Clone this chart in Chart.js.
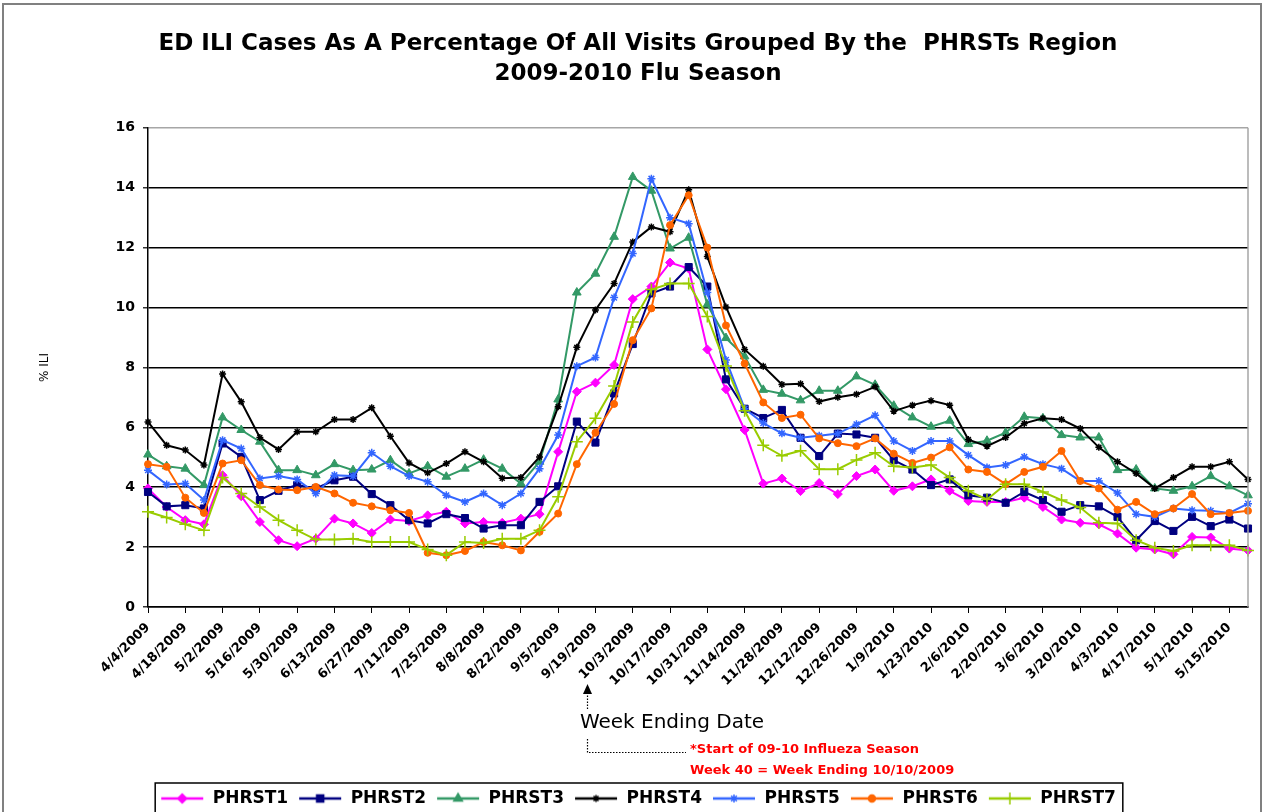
<!DOCTYPE html>
<html><head><meta charset="utf-8">
<script src="https://cdn.jsdelivr.net/npm/chart.js@4.4.1/dist/chart.umd.min.js"></script>
<style>html,body{margin:0;padding:0;background:#fff;}canvas{display:block;}</style>
</head><body>
<canvas id="c" width="1263" height="812"></canvas>
<script>
const weekEnding = ["4/4/2009","4/11/2009","4/18/2009","4/25/2009","5/2/2009","5/9/2009","5/16/2009","5/23/2009","5/30/2009","6/6/2009",
"6/13/2009","6/20/2009","6/27/2009","7/4/2009","7/11/2009","7/18/2009","7/25/2009","8/1/2009","8/8/2009","8/15/2009",
"8/22/2009","8/29/2009","9/5/2009","9/12/2009","9/19/2009","9/26/2009","10/3/2009","10/10/2009","10/17/2009","10/24/2009",
"10/31/2009","11/7/2009","11/14/2009","11/21/2009","11/28/2009","12/5/2009","12/12/2009","12/19/2009","12/26/2009","1/2/2010",
"1/9/2010","1/16/2010","1/23/2010","1/30/2010","2/6/2010","2/13/2010","2/20/2010","2/27/2010","3/6/2010","3/13/2010",
"3/20/2010","3/27/2010","4/3/2010","4/10/2010","4/17/2010","4/24/2010","5/1/2010","5/8/2010","5/15/2010","5/22/2010"];

const phrst1 = [3.96,3.34,2.90,2.76,4.40,3.70,2.84,2.23,2.03,2.28, 2.95,2.79,2.47,2.92,2.87,3.06,3.18,2.79,2.84,2.81, 2.95,3.10,5.18,7.19,7.49,8.08,10.28,10.7,11.5,11.3, 8.6,7.27,5.91,4.12,4.29,3.87,4.14,3.77,4.37,4.59, 3.88,4.03,4.26,3.88,3.54,3.51,3.51,3.65,3.34,2.92, 2.81,2.76,2.45,1.98,1.92,1.76,2.34,2.32,1.95,1.89];
const phrst2 = [3.84,3.36,3.40,3.29,5.46,5.01,3.57,3.88,4.07,3.96, 4.23,4.35,3.77,3.40,2.90,2.79,3.10,2.97,2.62,2.73, 2.73,3.51,4.03,6.19,5.49,7.13,8.78,10.47,10.7,11.35, 10.7,7.6,6.62,6.31,6.58,5.65,5.04,5.79,5.76,5.65, 4.9,4.59,4.07,4.26,3.73,3.65,3.48,3.84,3.57,3.18, 3.40,3.36,3.01,2.23,2.87,2.54,3.01,2.70,2.92,2.62];
const phrst3 = [5.09,4.70,4.62,4.07,6.33,5.91,5.52,4.57,4.57,4.40, 4.77,4.57,4.59,4.90,4.46,4.70,4.35,4.62,4.92,4.62, 4.12,4.85,6.93,10.5,11.13,12.36,14.36,13.9,11.97,12.33, 10.1,8.98,8.37,7.25,7.12,6.9,7.22,7.22,7.7,7.42, 6.72,6.33,6.02,6.22,5.44,5.55,5.82,6.35,6.30,5.74, 5.66,5.66,4.57,4.59,3.96,3.88,4.03,4.37,4.03,3.73];
const phrst4 = [6.18,5.40,5.24,4.74,7.78,6.85,5.66,5.26,5.85,5.85, 6.26,6.26,6.65,5.70,4.81,4.48,4.79,5.18,4.85,4.30, 4.32,5.01,6.69,8.67,9.92,10.8,12.19,12.69,12.53,13.93, 11.7,10.02,8.6,8.04,7.43,7.45,6.86,7.0,7.1,7.35, 6.54,6.74,6.89,6.74,5.59,5.37,5.66,6.13,6.30,6.26, 5.96,5.33,4.85,4.46,3.96,4.32,4.68,4.68,4.85,4.26];
const phrst5 = [4.57,4.09,4.12,3.57,5.57,5.29,4.29,4.37,4.26,3.79, 4.40,4.37,5.15,4.70,4.37,4.18,3.73,3.51,3.79,3.40, 3.79,4.62,5.74,8.04,8.33,10.33,11.8,14.3,13.0,12.8, 10.5,8.25,6.62,6.14,5.8,5.65,5.72,5.79,6.1,6.4, 5.54,5.21,5.54,5.54,5.07,4.66,4.74,5.01,4.77,4.62, 4.21,4.21,3.81,3.10,3.01,3.29,3.23,3.21,3.14,3.45];
const phrst6 = [4.77,4.68,3.65,3.14,4.79,4.90,4.07,3.92,3.90,4.01, 3.79,3.48,3.36,3.23,3.14,1.81,1.73,1.87,2.17,2.06, 1.89,2.51,3.12,4.77,5.82,6.78,8.91,9.97,12.75,13.75, 12.0,9.4,8.13,6.83,6.31,6.42,5.63,5.47,5.37,5.63, 5.12,4.81,4.99,5.33,4.59,4.51,4.10,4.51,4.68,5.21, 4.21,3.96,3.25,3.51,3.10,3.29,3.77,3.10,3.14,3.21];
const phrst7 = [3.18,2.99,2.76,2.56,4.32,3.79,3.34,2.90,2.56,2.25, 2.25,2.28,2.17,2.17,2.17,1.92,1.73,2.17,2.14,2.28, 2.28,2.56,3.68,5.52,6.3,7.38,9.52,10.6,10.8,10.8, 9.7,8.05,6.55,5.4,5.05,5.22,4.6,4.6,4.91,5.15, 4.7,4.66,4.74,4.32,3.88,3.59,4.10,4.10,3.84,3.57, 3.32,2.81,2.79,2.23,1.98,1.87,2.06,2.06,2.06,1.89];

const seriesNames = ["PHRST1","PHRST2","PHRST3","PHRST4","PHRST5","PHRST6","PHRST7"];
const seriesValues = [phrst1, phrst2, phrst3, phrst4, phrst5, phrst6, phrst7];
const yTicks = [0,2,4,6,8,10,12,14,16];
const titleLines = ["ED ILI Cases As A Percentage Of All Visits Grouped By the  PHRSTs Region", "2009-2010 Flu Season"];
const yTitle = "% ILI";
const xTitle = "Week Ending Date";
const noteLines = ["*Start of 09-10 Influeza Season", "Week 40 = Week Ending 10/10/2009"];

const colors = ["#FF00FF","#000080","#339966","#000000","#3366FF","#FF6600","#99CC00"];
const markers = [
  {style:"rectRot", r:4.5, fill:true},
  {style:"rect", r:5, fill:true},
  {style:"triangle", r:5, fill:true},
  {style:"star", r:3.5, fill:false},
  {style:"star", r:4, fill:false},
  {style:"circle", r:3.5, fill:true},
  {style:"cross", r:6, fill:false}
];
const FONT = "'DejaVu Sans', 'Liberation Sans', sans-serif";

function drawMarker(g, m, color, x, y) {
  g.fillStyle = color; g.strokeStyle = color; g.lineWidth = 1.5;
  if (Chart.helpers && Chart.helpers.drawPoint) {
    Chart.helpers.drawPoint(g, {pointStyle: m.style, radius: m.r, rotation: 0, borderWidth: 1.5}, x, y);
  }
}
const samples = seriesNames.map((n, i) => {
  const c = document.createElement('canvas'); c.width = 44; c.height = 16;
  const g = c.getContext('2d');
  g.strokeStyle = colors[i]; g.lineWidth = 2.5;
  g.beginPath(); g.moveTo(1, 8); g.lineTo(43, 8); g.stroke();
  drawMarker(g, markers[i], colors[i], 22, 8);
  return c;
});

const PAD = {left: 28, right: 15, top: 8, bottom: -5};
const PLOT_BOTTOM = 607;

const decor = {
  id: 'decor',
  beforeDraw(chart) {
    const ctx = chart.ctx; ctx.save();
    ctx.fillStyle = '#fff'; ctx.fillRect(0, 0, chart.width, chart.height);
    ctx.restore();
  },
  afterDraw(chart) {
    const ctx = chart.ctx; const a = chart.chartArea;
    ctx.save();
    // plot area right border
    ctx.strokeStyle = '#a6a6a6'; ctx.lineWidth = 1.5;
    ctx.beginPath(); ctx.moveTo(a.right, a.top); ctx.lineTo(a.right, a.bottom); ctx.stroke();
    // outer border
    ctx.strokeStyle = '#808080'; ctx.lineWidth = 2;
    ctx.strokeRect(3, 4, 1258, 830);
    // x axis title
    ctx.fillStyle = '#000'; ctx.font = "20px " + FONT; ctx.textAlign = 'center'; ctx.textBaseline = 'middle';
    ctx.fillText(xTitle, 672, 723);
    // arrow
    ctx.strokeStyle = '#000'; ctx.lineWidth = 1.2; ctx.setLineDash([1.5, 1.5]);
    ctx.beginPath(); ctx.moveTo(587.5, 709); ctx.lineTo(587.5, 692); ctx.stroke();
    ctx.setLineDash([]);
    ctx.beginPath(); ctx.moveTo(587.5, 684); ctx.lineTo(583, 694); ctx.lineTo(592, 694); ctx.closePath(); ctx.fill();
    ctx.setLineDash([1.5, 1.5]);
    ctx.beginPath(); ctx.moveTo(587.5, 739); ctx.lineTo(587.5, 752.5); ctx.lineTo(686, 752.5); ctx.stroke();
    ctx.setLineDash([]);
    ctx.fillStyle = '#FF0000'; ctx.font = "bold 13px " + FONT; ctx.textAlign = 'left';
    ctx.fillText(noteLines[0], 690, 750);
    ctx.fillText(noteLines[1], 690, 771);
    // legend border
    const lg = chart.legend;
    if (lg && lg.legendHitBoxes && lg.legendHitBoxes.length) {
      const hb = lg.legendHitBoxes;
      const l = Math.min(...hb.map(h => h.left)) - 5;
      const r = Math.max(...hb.map(h => h.left + h.width)) + 7;
      const t = hb[0].top - 7;
      ctx.strokeStyle = '#000'; ctx.lineWidth = 1.5;
      ctx.strokeRect(l, t, r - l, 40);
    }
    ctx.restore();
  }
};

const datasets = seriesNames.map((name, i) => ({
  label: name,
  data: seriesValues[i],
  borderColor: colors[i],
  backgroundColor: markers[i].fill ? colors[i] : 'transparent',
  pointBackgroundColor: colors[i],
  pointBorderColor: colors[i],
  pointStyle: markers[i].style,
  pointRadius: markers[i].r,
  pointBorderWidth: markers[i].fill ? 1 : 1.5,
  borderWidth: 2,
  tension: 0,
  clip: false,
  order: 6 - i
}));

new Chart(document.getElementById('c'), {
  type: 'line',
  data: {labels: weekEnding, datasets},
  plugins: [decor],
  options: {
    responsive: false,
    animation: false,
    layout: {padding: PAD},
    plugins: {
      tooltip: {enabled: false},
      title: {
        display: true, text: titleLines, color: '#000',
        font: {family: FONT, size: 23, weight: 'bold', lineHeight: 1.3},
        padding: {top: 21, bottom: 39}
      },
      legend: {
        position: 'bottom', align: 'center',
        labels: {
          usePointStyle: true, pointStyleWidth: 44, padding: 10, color: '#000',
          font: {family: FONT, size: 17, weight: 'bold'},
          sort: (a, b) => a.datasetIndex - b.datasetIndex,
          generateLabels(chart) {
            const items = Chart.defaults.plugins.legend.labels.generateLabels(chart);
            items.forEach(it => { it.pointStyle = samples[it.datasetIndex]; });
            return items;
          }
        }
      }
    },
    scales: {
      x: {
        type: 'category', offset: false,
        afterBuildTicks: s => { s.ticks = s.ticks.filter(t => t.value % 2 === 0); },
        afterFit: s => { const lg = s.chart.legend; const lh = (lg && lg.height) ? lg.height : 38; s.height = 812 - PAD.bottom - lh - PLOT_BOTTOM; },
        ticks: {autoSkip: false, minRotation: 45, maxRotation: 45, color: '#000', padding: 7,
                font: {family: FONT, size: 13, weight: 'bold'}},
        grid: {drawOnChartArea: false, drawTicks: true, tickLength: 6, color: '#000', lineWidth: 1},
        border: {display: true, color: '#000', width: 1.5}
      },
      y: {
        min: 0, max: 16,
        afterBuildTicks: s => { s.ticks = yTicks.map(v => ({value: v})); },
        afterFit: s => { s.width = 148 - PAD.left; },
        ticks: {color: '#000', padding: 8, font: {family: FONT, size: 14, weight: 'bold'}},
        grid: {color: c => (c.tick && c.tick.value === 16) ? '#a6a6a6' : '#000', lineWidth: 1.6,
               drawTicks: true, tickLength: 5, tickColor: '#000', tickWidth: 1.2},
        border: {display: true, color: '#000', width: 1.5},
        title: {display: true, text: yTitle, color: '#000', font: {family: FONT, size: 12}, padding: {top: 10, bottom: 0}}
      }
    }
  }
});
</script>
</body></html>
